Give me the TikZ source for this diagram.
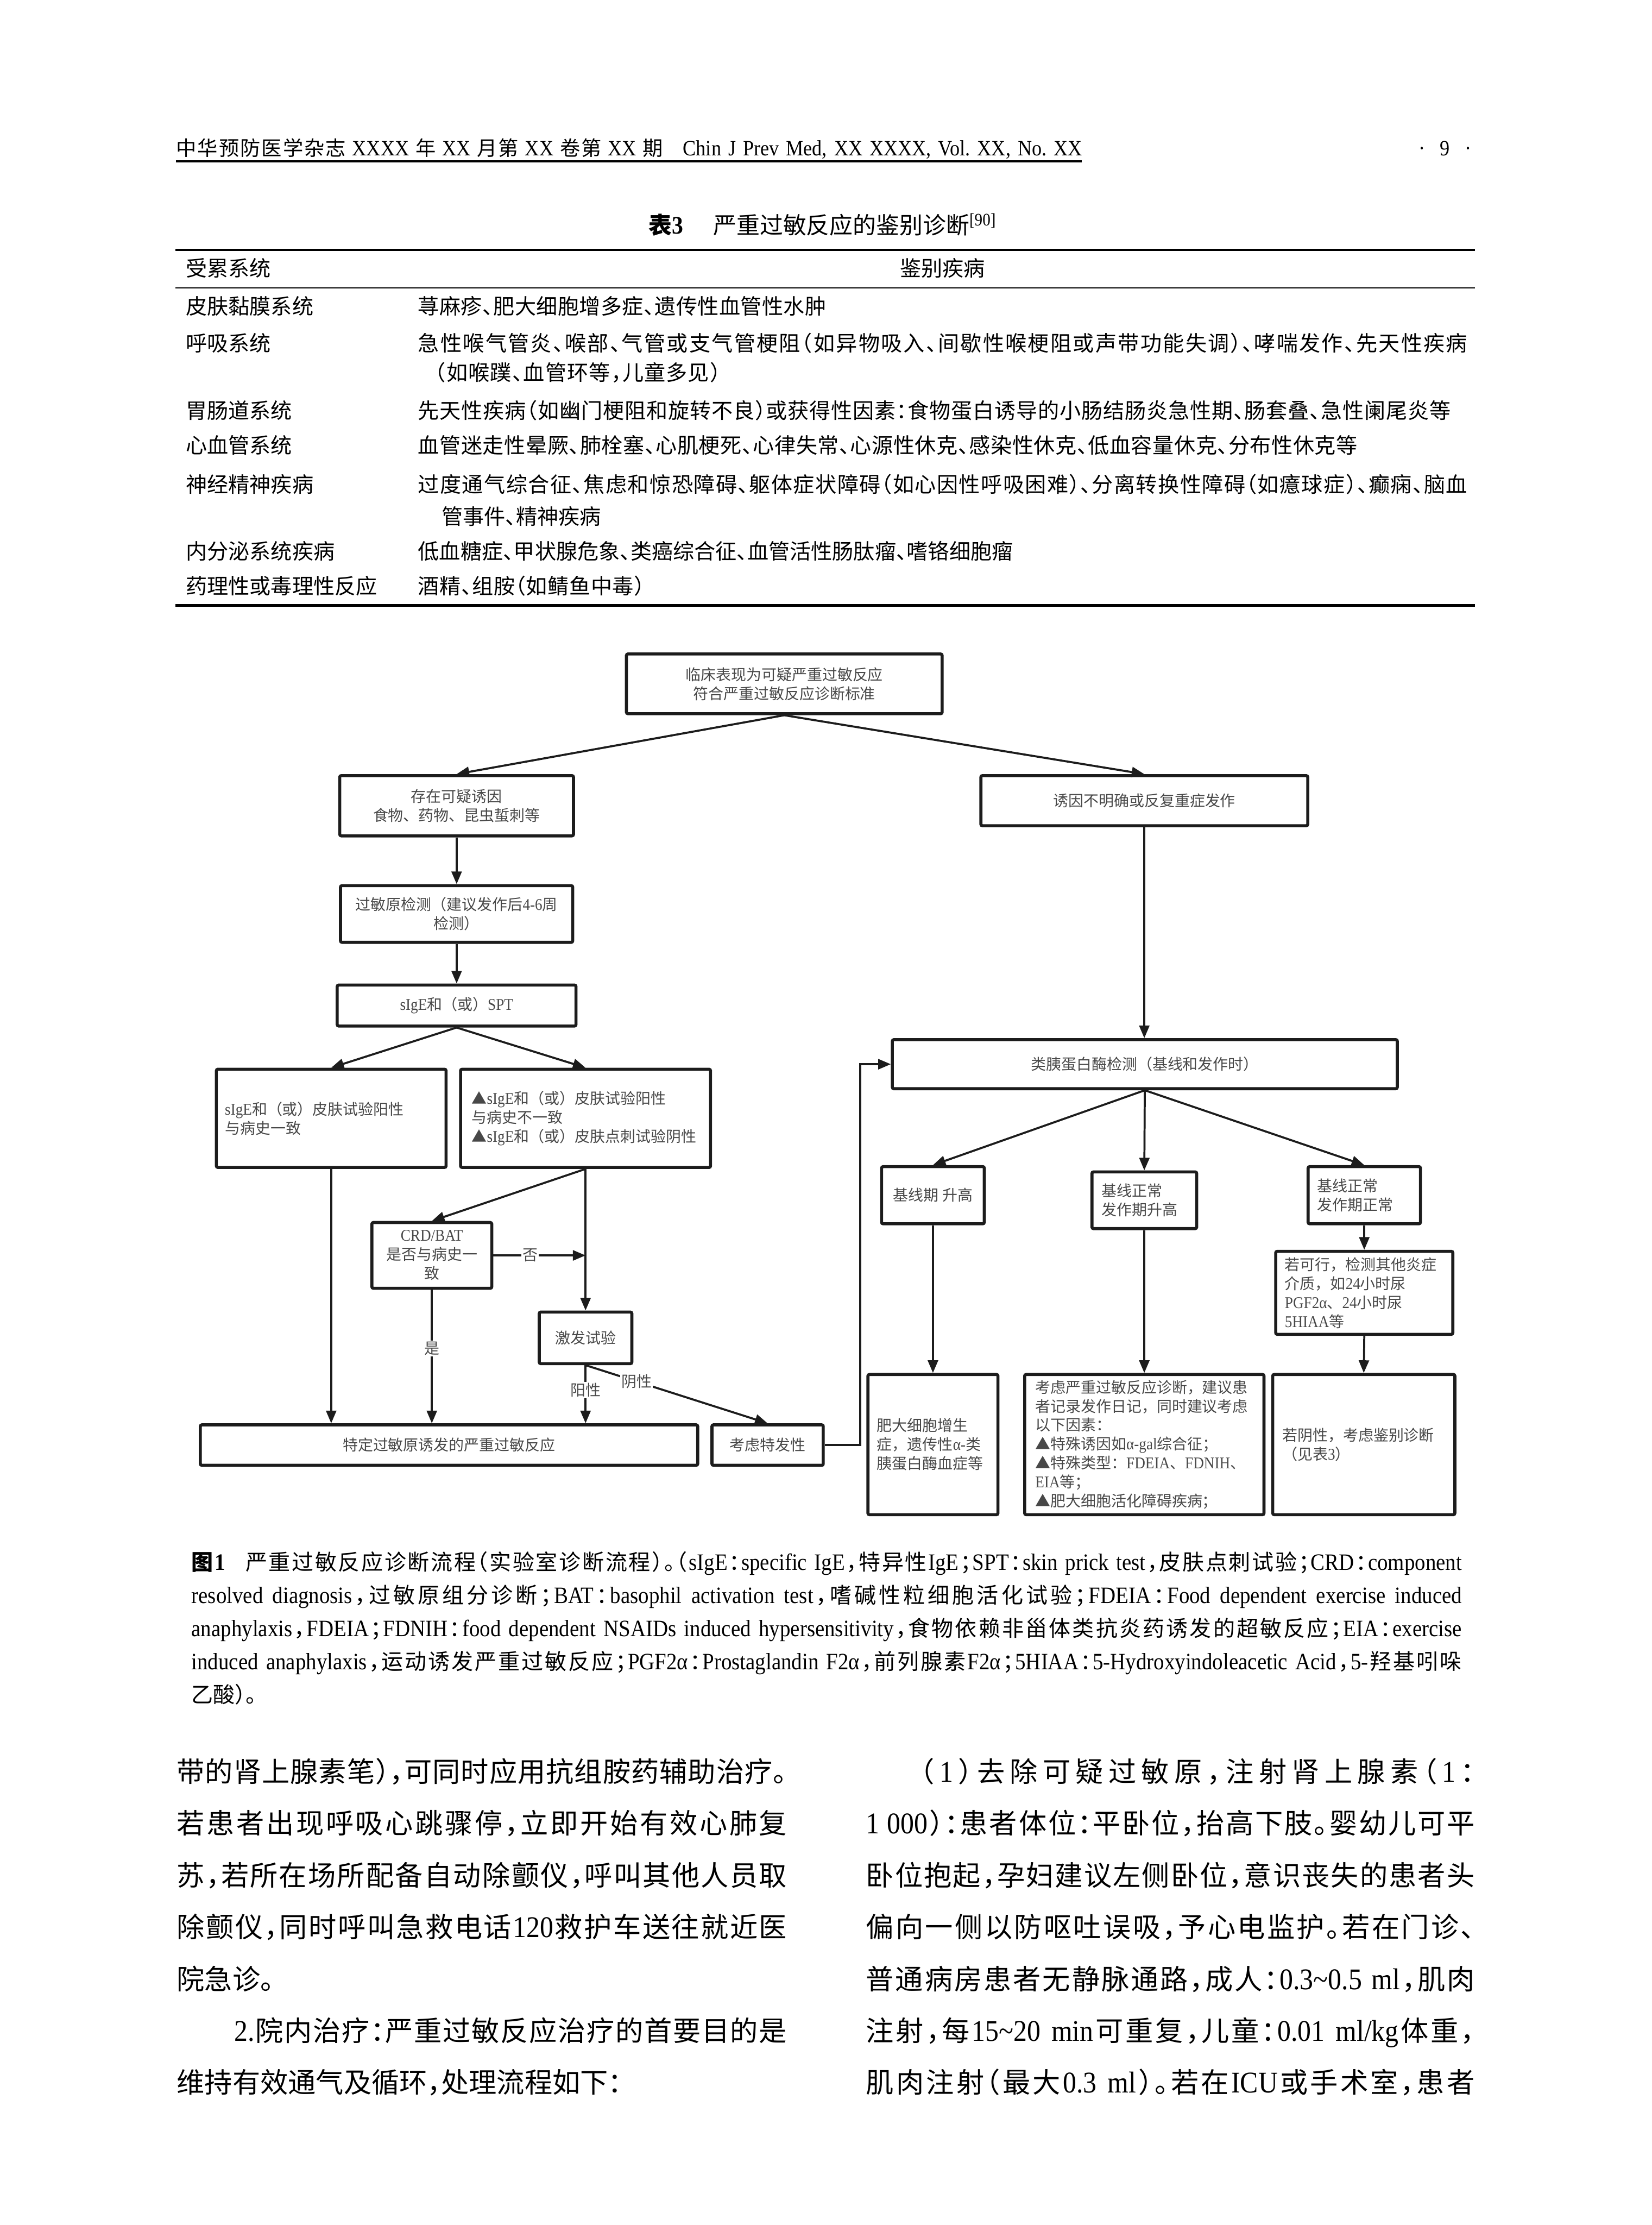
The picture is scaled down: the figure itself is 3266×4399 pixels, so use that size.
\documentclass[tikz,border=0pt]{standalone}
\usepackage{fontspec}
\setmainfont{Liberation Serif}[FakeStretch=0.9,Scale=1.08]
\newfontfamily\latf{Liberation Serif}[FakeStretch=0.9,Scale=1.08]
\newfontfamily\cjkhalt{Noto Sans CJK SC}[RawFeature=+halt]
\newfontfamily\cjkfull{Noto Sans CJK SC}
\usetikzlibrary{arrows.meta}
\definecolor{fcgray}{RGB}{72,72,72}
\definecolor{fcline}{RGB}{28,28,28}
\frenchspacing

\let\curcjk\cjkhalt
\let\curlat\latf
\XeTeXinterchartokenstate=1
\ifdefined\newXeTeXintercharclass
  \newXeTeXintercharclass\cjkcls
\else
  \chardef\cjkcls=10
\fi
\newcount\mycnt
\newcommand\setclsrange[3]{%
  \mycnt=#1\relax
  \loop
    \XeTeXcharclass\mycnt=#3\relax
  \ifnum\mycnt<#2\relax
    \advance\mycnt by 1\relax
  \repeat}
\setclsrange{"0021}{"02FF}{0}
\setclsrange{"0370}{"03FF}{0}
\setclsrange{"2000}{"206F}{0}
\setclsrange{"25A0}{"25FF}{\cjkcls}
\setclsrange{"2E80}{"2FFF}{\cjkcls}
\setclsrange{"3000}{"303F}{\cjkcls}
\setclsrange{"3400}{"4DBF}{\cjkcls}
\setclsrange{"4E00}{"9FFF}{\cjkcls}
\setclsrange{"FF00}{"FFEF}{\cjkcls}
\XeTeXinterchartoks 0 \cjkcls = {\hskip 0pt plus 1pt\relax\curcjk}
\XeTeXinterchartoks \cjkcls 0 = {\hskip 0pt plus 1pt\relax\curlat}
\XeTeXinterchartoks \cjkcls \cjkcls = {\hskip 0pt plus 1pt\relax}
\XeTeXinterchartoks 4095 \cjkcls = {\curcjk}
\XeTeXinterchartoks \cjkcls 4095 = {\curlat}

\newcommand\fcfont{\fontsize{8.54pt}{10.67pt}\selectfont\let\curcjk\cjkfull}
\newcommand\tbfont{\fontsize{11.95pt}{14pt}\selectfont}
\newcommand\ttlfont{\fontsize{13.09pt}{16pt}\selectfont}
\newcommand\hdfont{\fontsize{11.38pt}{14pt}\selectfont}
\newcommand\cpfont{\fontsize{12.23pt}{15pt}\selectfont}
\newcommand\bdfont{\fontsize{15.65pt}{19pt}\selectfont}
\newcommand\jl[2]{\hbox to #1{#2}}

\tikzset{
  tx/.style={anchor=base west, inner sep=0pt},
  hd/.style={tx, font=\hdfont},
  tb/.style={tx, font=\tbfont},
  cp/.style={tx, font=\cpfont},
  bd/.style={tx, font=\bdfont},
  fcbox/.style={font=\fcfont, text=fcgray, draw=fcline, line width=0.06cm, rounded corners=0.03cm, fill=white, inner sep=0pt, align=center},
  fclbox/.style={fcbox, align=left, inner xsep=#1},
  conn/.style={draw=fcline, line width=0.04cm},
  arr/.style={conn, -{Triangle[length=0.25cm,width=0.2cm]}},
  lab/.style={font=\fcfont, text=fcgray, fill=white, inner sep=0.02cm},
}

\begin{document}
\begin{tikzpicture}[x=0.01cm,y=-0.01cm]
\fill[white] (0,0) rectangle (3266,4399);
\useasboundingbox (0,0) rectangle (3266,4399);

% ---------- running header ----------
\node[hd] (hdL) at (348,308) {\jl{9.62cm}{中华预防医学杂志 XXXX 年 XX 月第 XX 卷第 XX 期}};
\node[hd] (hdR) at (1350,308) {\jl{7.89cm}{Chin J Prev Med, XX XXXX, Vol. XX, No. XX}};
\node[hd] (pg) at (2805,308) {\jl{1.04cm}{·\hfill 9\hfill ·}};
\draw[line width=0.04cm] (348,319) -- (2139,319);

% ---------- table ----------
\node[tx, font=\ttlfont\bfseries] (tt1) at (1282,462) {表3};
\node[tx, font=\ttlfont] (tt2) at (1410,462) {严重过敏反应的鉴别诊断\textsuperscript{[90]}};
\draw[line width=0.05cm] (347,494) -- (2917,494);
\draw[line width=0.025cm] (347,569) -- (2917,569);
\draw[line width=0.05cm] (347,1197) -- (2917,1197);

\node[tb] (h1) at (367,546) {受累系统};
\node[tb, anchor=base] (h2) at (1864,546) {鉴别疾病};
\node[tb] (c11) at (367,621) {皮肤黏膜系统};
\node[tb] (c12) at (826,621) {\jl{8.07cm}{荨麻疹、肥大细胞增多症、遗传性血管性水肿}};
\node[tb] (c21) at (367,694) {呼吸系统};
\node[tb] (c22) at (826,694) {\jl{20.74cm}{急性喉气管炎、喉部、气管或支气管梗阻（如异物吸入、间歇性喉梗阻或声带功能失调）、哮喘发作、先天性疾病}};
\node[tb] (c23) at (860,752) {\jl{5.64cm}{（如喉蹼、血管环等，儿童多见）}};
\node[tb] (c31) at (367,828) {胃肠道系统};
\node[tb] (c32) at (826,828) {\jl{20.41cm}{先天性疾病（如幽门梗阻和旋转不良）或获得性因素：食物蛋白诱导的小肠结肠炎急性期、肠套叠、急性阑尾炎等}};
\node[tb] (c41) at (367,896) {心血管系统};
\node[tb] (c42) at (826,896) {\jl{18.57cm}{血管迷走性晕厥、肺栓塞、心肌梗死、心律失常、心源性休克、感染性休克、低血容量休克、分布性休克等}};
\node[tb] (c51) at (367,974) {神经精神疾病};
\node[tb] (c52) at (826,974) {\jl{20.74cm}{过度通气综合征、焦虑和惊恐障碍、躯体症状障碍（如心因性呼吸困难）、分离转换性障碍（如癔球症）、癫痫、脑血}};
\node[tb] (c53) at (873,1037) {管事件、精神疾病};
\node[tb] (c61) at (367,1106) {内分泌系统疾病};
\node[tb] (c62) at (826,1106) {低血糖症、甲状腺危象、类癌综合征、血管活性肠肽瘤、嗜铬细胞瘤};
\node[tb] (c71) at (367,1174) {药理性或毒理性反应};
\node[tb] (c72) at (826,1174) {\jl{4.48cm}{酒精、组胺（如鲭鱼中毒）}};

% ---------- flowchart boxes ----------
\node[fcbox, minimum width=6.24cm, minimum height=1.18cm] (top) at (1551,1352) {临床表现为可疑严重过敏反应\\符合严重过敏反应诊断标准};
\node[fcbox, minimum width=4.62cm, minimum height=1.19cm] (b2) at (903,1593) {存在可疑诱因\\食物、药物、昆虫蜇刺等};
\node[fcbox, minimum width=4.59cm, minimum height=1.12cm] (b3) at (903,1807) {过敏原检测（建议发作后4-6周\\检测）};
\node[fcbox, minimum width=4.72cm, minimum height=0.81cm] (b4) at (903,1988) {sIgE和（或）SPT};
\node[fclbox=0.17cm, text width=4.20cm, minimum height=1.94cm] (bL) at (655,2211) {sIgE和（或）皮肤试验阳性\\与病史一致};
\node[fclbox=0.22cm, text width=4.50cm, minimum height=1.94cm] (bR) at (1158,2211) {▲sIgE和（或）皮肤试验阳性\\与病史不一致\\▲sIgE和（或）皮肤点刺试验阴性};
\node[fcbox, minimum width=2.37cm, minimum height=1.30cm] (crd) at (854,2482) {CRD/BAT\\是否与病史一\\致};
\node[fcbox, minimum width=1.83cm, minimum height=1.02cm] (jf) at (1158,2645) {激发试验};
\node[fcbox, minimum width=9.83cm, minimum height=0.80cm] (fin) at (888,2857) {特定过敏原诱发的严重过敏反应};
\node[fcbox, minimum width=2.20cm, minimum height=0.80cm] (kz) at (1518,2857) {考虑特发性};
\node[fcbox, minimum width=6.46cm, minimum height=0.99cm] (b5) at (2263,1583) {诱因不明确或反复重症发作};
\node[fcbox, minimum width=9.98cm, minimum height=0.97cm] (tp) at (2264,2104) {类胰蛋白酶检测（基线和发作时）};
\node[fcbox, minimum width=2.03cm, minimum height=1.13cm] (nA) at (1845,2363) {基线期 升高};
\node[fclbox=0.19cm, text width=1.69cm, minimum height=1.12cm] (nB) at (2263,2373) {基线正常\\发作期升高};
\node[fclbox=0.18cm, text width=1.86cm, minimum height=1.13cm] (nC) at (2698,2363) {基线正常\\发作期正常};
\node[fclbox=0.18cm, text width=3.14cm, minimum height=1.64cm] (nD) at (2698,2556) {若可行，检测其他炎症\\介质，如24小时尿\\PGF2α、24小时尿\\5HIAA等};
\node[fclbox=0.18cm, text width=2.21cm, minimum height=2.77cm] (nE) at (1845,2856) {肥大细胞增生\\症，遗传性α-类\\胰蛋白酶血症等};
\node[fclbox=0.21cm, text width=4.31cm, minimum height=2.77cm] (nF) at (2263,2856) {考虑严重过敏反应诊断，建议患\\者记录发作日记，同时建议考虑\\以下因素：\\▲特殊诱因如α-gal综合征；\\▲特殊类型：FDEIA、FDNIH、\\EIA等；\\▲肥大细胞活化障碍疾病；};
\node[fclbox=0.19cm, text width=3.22cm, minimum height=2.77cm] (nG) at (2697,2856) {若阴性，考虑鉴别诊断\\（见表3）};

% ---------- flowchart connectors ----------
\draw[arr] (top.south) -- (b2.north);
\draw[arr] (top.south) -- (b5.north);
\draw[arr] (b2.south) -- (b3.north);
\draw[arr] (b3.south) -- (b4.north);
\draw[arr] (b4.south) -- (bL.north);
\draw[arr] (b4.south) -- (bR.north);
\draw[arr] (bL.south) -- (bL.south |- fin.north);
\draw[arr] (bR.south) -- (crd.north);
\draw[arr] (bR.south) -- (jf.north);
\draw[arr] (crd.east) -- (crd.east -| jf.north) node[lab, pos=0.4] (no) {否};
\draw[arr] (crd.south) -- (crd.south |- fin.north) node[lab, pos=0.44] (yes) {是};
\draw[arr] (jf.south) -- (jf.south |- fin.north) node[lab, pos=0.43] (pos) {阳性};
\draw[arr] (jf.south) -- (kz.north) node[lab, pos=0.28] (neg) {阴性};
\draw[arr] (kz.east) -- ++(70,0) |- (tp.west);
\draw[arr] (b5.south) -- (b5.south |- tp.north);
\draw[arr] (tp.south) -- (nA.north);
\draw[arr] (tp.south) -- (nB.north);
\draw[arr] (tp.south) -- (nC.north);
\draw[arr] (nC.south) -- (nD.north);
\draw[arr] (nA.south) -- (nE.north);
\draw[arr] (nB.south) -- (nF.north);
\draw[arr] (nD.south) -- (nG.north);

% ---------- caption ----------
\node[cp] (cap1) at (378,3104) {\jl{25.11cm}{{\bfseries 图1}\hspace{0.4cm}严重过敏反应诊断流程（实验室诊断流程）。（sIgE：specific IgE，特异性IgE；SPT：skin prick test，皮肤点刺试验；CRD：component}};
\node[cp] (cap2) at (378,3170) {\jl{25.11cm}{resolved diagnosis，过敏原组分诊断；BAT：basophil activation test，嗜碱性粒细胞活化试验；FDEIA：Food dependent exercise induced}};
\node[cp] (cap3) at (378,3235) {\jl{25.11cm}{anaphylaxis，FDEIA；FDNIH：food dependent NSAIDs induced hypersensitivity，食物依赖非甾体类抗炎药诱发的超敏反应；EIA：exercise}};
\node[cp] (cap4) at (378,3301) {\jl{25.11cm}{induced anaphylaxis，运动诱发严重过敏反应；PGF2α：Prostaglandin F2α，前列腺素F2α；5HIAA：5-Hydroxyindoleacetic Acid，5-羟基吲哚}};
\node[cp] (cap5) at (378,3366) {乙酸）。};

% ---------- body text, left column ----------
\node[bd] (l1) at (349,3523) {\jl{12.06cm}{带的肾上腺素笔），可同时应用抗组胺药辅助治疗。}};
\node[bd] (l2) at (349,3625) {\jl{12.06cm}{若患者出现呼吸心跳骤停，立即开始有效心肺复}};
\node[bd] (l3) at (349,3728) {\jl{12.06cm}{苏，若所在场所配备自动除颤仪，呼叫其他人员取}};
\node[bd] (l4) at (349,3830) {\jl{12.06cm}{除颤仪，同时呼叫急救电话120救护车送往就近医}};
\node[bd] (l5) at (349,3933) {院急诊。};
\node[bd] (l6) at (463,4035) {\jl{10.92cm}{2.院内治疗：严重过敏反应治疗的首要目的是}};
\node[bd] (l7) at (349,4137) {维持有效通气及循环，处理流程如下：};

% ---------- body text, right column ----------
\node[bd] (r1) at (1820,3523) {\jl{10.95cm}{（1）去除可疑过敏原，注射肾上腺素（1：}};
\node[bd] (r2) at (1712,3625) {\jl{12.03cm}{1\kern0.25em000）：患者体位：平卧位，抬高下肢。婴幼儿可平}};
\node[bd] (r3) at (1712,3728) {\jl{12.03cm}{卧位抱起，孕妇建议左侧卧位，意识丧失的患者头}};
\node[bd] (r4) at (1712,3830) {\jl{12.03cm}{偏向一侧以防呕吐误吸，予心电监护。若在门诊、}};
\node[bd] (r5) at (1712,3933) {\jl{12.03cm}{普通病房患者无静脉通路，成人：0.3\textasciitilde0.5 ml，肌肉}};
\node[bd] (r6) at (1712,4035) {\jl{12.03cm}{注射，每15\textasciitilde20 min可重复，儿童：0.01 ml/kg体重，}};
\node[bd] (r7) at (1712,4137) {\jl{12.03cm}{肌肉注射（最大0.3 ml）。若在ICU或手术室，患者}};
\end{tikzpicture}
\end{document}
